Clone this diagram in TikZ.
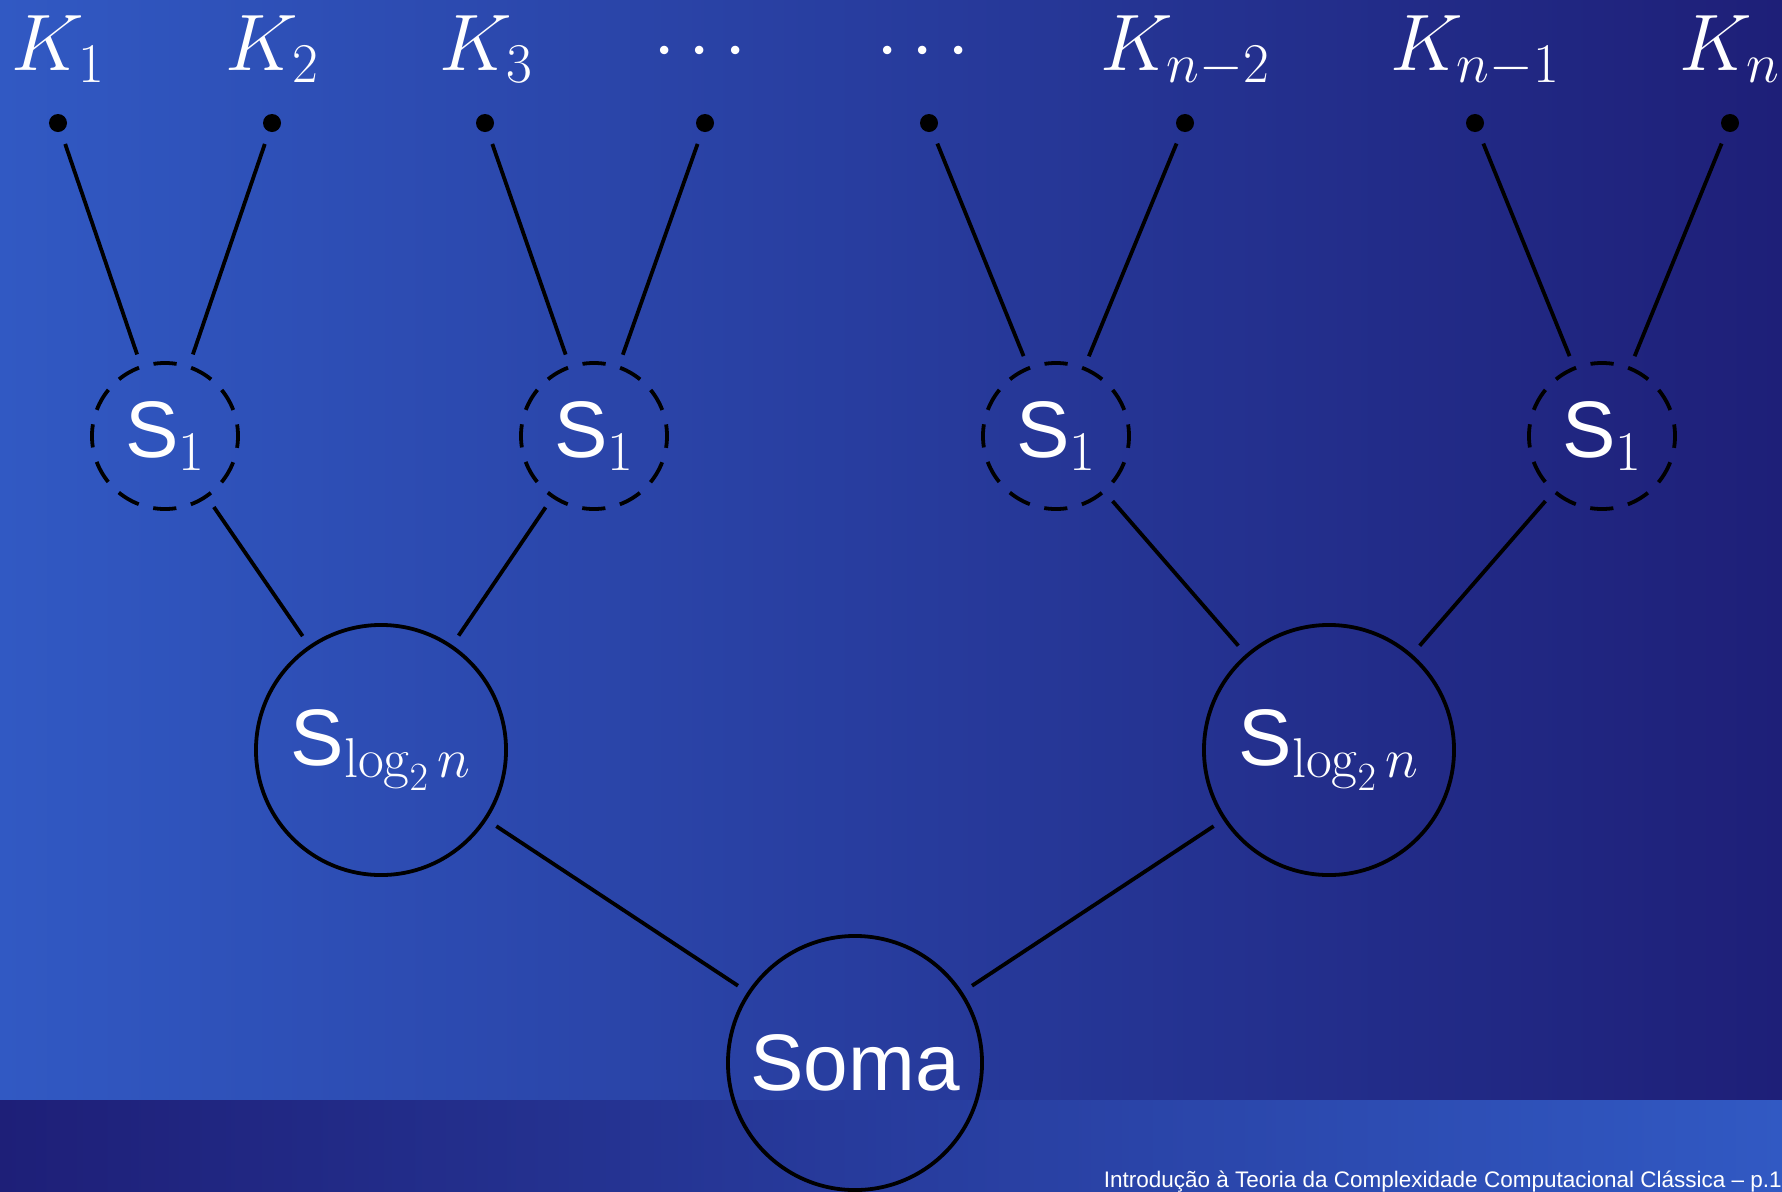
\RequirePackage{fix-cm}
\documentclass[tikz,border=0pt]{standalone}
\usepackage{fontspec}
\newfontfamily\helv{Liberation Sans}
\definecolor{Light}{HTML}{3159C3}
\definecolor{Dark}{HTML}{1E1F78}

\begin{document}
\begin{tikzpicture}[x=0.025cm,y=-0.025cm,
    big/.style={font=\fontsize{57}{62}\selectfont,text=white},
    klabel/.style={big,anchor=base,inner sep=0pt},
    leaf/.style={circle,fill=black,inner sep=0pt,minimum size=0.45cm,outer sep=0.33cm},
    part/.style={circle,draw=black,line width=2.7pt,dash pattern=on 0.58cm off 0.375cm,
      dash phase=0.29cm,minimum size=3.65cm,inner sep=0pt,outer sep=0.33cm,big},
    sum/.style={circle,draw=black,line width=2.7pt,minimum size=6.25cm,inner sep=0pt,
      outer sep=0.33cm,big},
    edge/.style={draw=black,line width=2.7pt}
  ]
    \useasboundingbox (0,0) rectangle (1782,1191);
    \fill[left color=Light,right color=Dark] (0,0) rectangle (1782,1100);
    \fill[left color=Dark,right color=Light] (0,1100) rectangle (1782,1191);

    \node[klabel] (lk1) at (58,70) {$K_1$};
    \node[klabel] (lk2) at (272,70) {$K_2$};
    \node[klabel] (lk3) at (486,70) {$K_3$};
    \node[klabel] (lk4) at (700,70) {$\cdots$};
    \node[klabel] (lk5) at (923,70) {$\cdots$};
    \node[klabel] (lk6) at (1185,70) {$K_{n-2}$};
    \node[klabel] (lk7) at (1475,70) {$K_{n-1}$};
    \node[klabel] (lk8) at (1730,70) {$K_n$};

    \node[leaf] (k1) at (58,123) {};
    \node[leaf] (k2) at (272,123) {};
    \node[leaf] (k3) at (485,123) {};
    \node[leaf] (k4) at (705,123) {};
    \node[leaf] (k5) at (929,123) {};
    \node[leaf] (k6) at (1185,123) {};
    \node[leaf] (k7) at (1475,123) {};
    \node[leaf] (k8) at (1730,123) {};

    \node[part] (sa) at (165,436) {{\helv S}$_1$};
    \node[part] (sb) at (594,436) {{\helv S}$_1$};
    \node[part] (sc) at (1056,436) {{\helv S}$_1$};
    \node[part] (sd) at (1602,436) {{\helv S}$_1$};

    \node[sum] (la) at (381,750) {{\helv S}$_{\log_2 n}$};
    \node[sum] (lb) at (1329,750) {{\helv S}$_{\log_2 n}$};
    \node[sum,minimum size=6.35cm] (soma) at (855,1063) {\helv Soma};

    \foreach \a/\b in {k1/sa,k2/sa,k3/sb,k4/sb,k5/sc,k6/sc,k7/sd,k8/sd,
                       sa/la,sb/la,sc/lb,sd/lb,la/soma,lb/soma}
      \draw[edge] (\a) -- (\b);

    \node[anchor=base east,inner sep=0pt,text=white,font=\helv\fontsize{16}{19}\selectfont]
      (foot) at (1782,1187) {Introdução à Teoria da Complexidade Computacional Clássica – p.1};
  \end{tikzpicture}
\end{document}
